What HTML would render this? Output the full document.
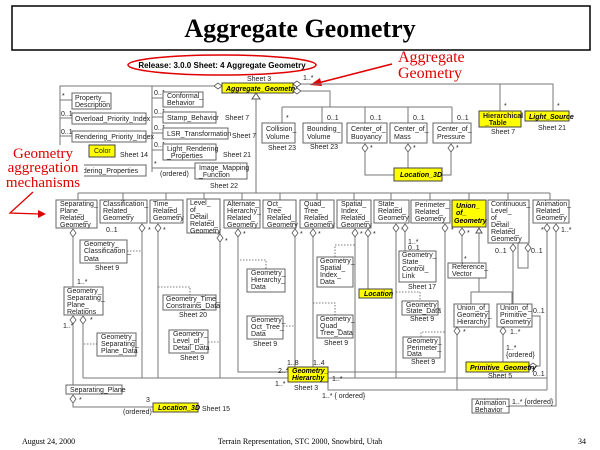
<!DOCTYPE html>
<html><head><meta charset="utf-8"><style>
html,body{margin:0;padding:0;background:#fff;}
svg{display:block;}
.b{fill:#fff;stroke:#666;stroke-width:1;}
.y{fill:#ffff00;stroke:#444;stroke-width:1;}
.t{font-family:"Liberation Sans",sans-serif;font-size:7px;fill:#222;}
.ti{font-family:"Liberation Sans",sans-serif;font-size:7px;fill:#000;font-weight:bold;font-style:italic;}
.l{stroke:#777;stroke-width:1;fill:none;}
.d{stroke:#555;stroke-width:0.8;stroke-dasharray:1.5,1.5;fill:none;}
.r{font-family:"Liberation Serif",serif;font-size:16px;fill:#e00000;}
.r2{font-family:"Liberation Serif",serif;font-size:15px;fill:#e00000;}
.dm{fill:#fff;stroke:#555;stroke-width:0.8;}
</style></head><body>
<svg width="600" height="450" viewBox="0 0 600 450" xmlns="http://www.w3.org/2000/svg">
<rect x="12" y="6" width="578" height="44" fill="#fff" stroke="#000" stroke-width="1.5"/>
<text x="300" y="37" text-anchor="middle" font-family="Liberation Serif,serif" font-weight="bold" font-size="26">Aggregate Geometry</text>
<ellipse cx="222" cy="65" rx="94" ry="10" fill="none" stroke="#e00000" stroke-width="1.5"/>
<text x="222" y="68" text-anchor="middle" font-family="Liberation Sans,sans-serif" font-weight="bold" font-size="8">Release: 3.0.0  Sheet: 4  Aggregate Geometry</text>
<text class="r" x="398" y="62">Aggregate</text>
<text class="r" x="398" y="78">Geometry</text>
<line x1="392" y1="64" x2="318" y2="83" stroke="#e00000" stroke-width="1.5"/>
<polygon points="310,85 320,78 322,86" fill="#e00000"/>

<text class="t" x="247" y="81">Sheet 3</text>
<rect class="y" x="222" y="83" width="71" height="10"/>
<text class="ti" x="226" y="91">Aggregate_Geometry</text>
<polygon class="dm" points="293,84 297,81 301,84 297,87"/>
<polygon class="dm" points="293,91 297,88 301,91 297,94"/>
<polygon class="dm" points="214,86 218,83 222,86 218,89"/>
<text class="t" x="303" y="80">1..*</text>
<polyline class="l" points="214,86 60,86 60,168"/>
<line class="l" x1="152" y1="86" x2="152" y2="172"/>
<line class="l" x1="60" y1="100" x2="72" y2="100"/><text class="t" x="62" y="98">*</text>
<line class="l" x1="60" y1="118" x2="72" y2="118"/><text class="t" x="61" y="116">0..1</text>
<line class="l" x1="60" y1="136" x2="72" y2="136"/><text class="t" x="61" y="134">0..1</text>
<rect class="b" x="72" y="93" width="39" height="16"/><text class="t" x="75" y="100">Property_</text><text class="t" x="75" y="107">Description</text>
<rect class="b" x="72" y="113" width="74" height="11"/><text class="t" x="75" y="121">Overload_Priority_Index</text>
<rect class="b" x="72" y="131" width="74" height="11"/><text class="t" x="75" y="139">Rendering_Priority_Index</text>
<rect class="y" x="89" y="145" width="26" height="12"/><text class="t" x="94" y="153">Color</text>
<text class="t" x="120" y="157">Sheet 14</text>
<rect class="b" x="60" y="165" width="86" height="11"/><text class="t" x="70" y="173">Rendering_Properties</text>
<line class="l" x1="152" y1="98" x2="163" y2="98"/><text class="t" x="154" y="95">0..1</text>
<line class="l" x1="152" y1="117" x2="163" y2="117"/><text class="t" x="154" y="114">0..1</text>
<line class="l" x1="152" y1="133" x2="163" y2="133"/><text class="t" x="154" y="130">0..1</text>
<line class="l" x1="152" y1="150" x2="163" y2="150"/><text class="t" x="154" y="147">0..1</text>
<line class="l" x1="152" y1="168" x2="195" y2="168"/><text class="t" x="154" y="166">*</text>
<text class="t" x="160" y="176">(ordered)</text>
<rect class="b" x="163" y="92" width="40" height="15"/><text class="t" x="167" y="98">Conformal_</text><text class="t" x="167" y="105">Behavior</text>
<rect class="b" x="163" y="112" width="53" height="11"/><text class="t" x="167" y="120">Stamp_Behavior</text><text class="t" x="225" y="120">Sheet 7</text>
<rect class="b" x="163" y="128" width="65" height="11"/><text class="t" x="167" y="136">LSR_Transformation</text><text class="t" x="232" y="138">Sheet 7</text>
<rect class="b" x="163" y="144" width="53" height="16"/><text class="t" x="167" y="151">Light_Rendering</text><text class="t" x="167" y="158">_Properties</text><text class="t" x="223" y="157">Sheet 21</text>
<rect class="b" x="195" y="163" width="52" height="16"/><text class="t" x="199" y="170">Image_Mapping</text><text class="t" x="199" y="177">_Function</text><text class="t" x="210" y="188">Sheet 22</text>
<rect x="4" y="145" width="80" height="46" fill="#fff"/>
<text class="r2" x="43" y="158" text-anchor="middle">Geometry</text>
<text class="r2" x="43" y="172" text-anchor="middle">aggregation</text>
<text class="r2" x="43" y="187" text-anchor="middle">mechanisms</text>
<polyline points="33,192 10,213 40,214" fill="none" stroke="#e00000" stroke-width="1.3"/>
<polygon points="46,214 38,210 38,218" fill="#e00000"/>

<polyline class="l" points="301,91 330,91 330,107"/>
<line class="l" x1="282" y1="107" x2="452" y2="107"/>
<line class="l" x1="282" y1="107" x2="282" y2="123"/><text class="t" x="286" y="120">*</text>
<line class="l" x1="322" y1="107" x2="322" y2="123"/><text class="t" x="327" y="120">0..1</text>
<line class="l" x1="365" y1="107" x2="365" y2="123"/><text class="t" x="370" y="120">0..1</text>
<line class="l" x1="408" y1="107" x2="408" y2="123"/><text class="t" x="413" y="120">0..1</text>
<line class="l" x1="452" y1="107" x2="452" y2="123"/><text class="t" x="457" y="120">0..1</text>
<rect class="b" x="262" y="123" width="33" height="20"/><text class="t" x="266" y="131">Collision_</text><text class="t" x="266" y="139">Volume</text><text class="t" x="268" y="150">Sheet 23</text>
<rect class="b" x="303" y="123" width="39" height="20"/><text class="t" x="307" y="131">Bounding_</text><text class="t" x="307" y="139">Volume</text><text class="t" x="310" y="149">Sheet 23</text>
<rect class="b" x="347" y="123" width="40" height="20"/><text class="t" x="351" y="131">Center_of_</text><text class="t" x="351" y="139">Buoyancy</text>
<rect class="b" x="390" y="123" width="37" height="20"/><text class="t" x="394" y="131">Center_of_</text><text class="t" x="394" y="139">Mass</text>
<rect class="b" x="433" y="123" width="38" height="20"/><text class="t" x="437" y="131">Center_of_</text><text class="t" x="437" y="139">Pressure</text>
<polygon class="dm" points="365,144 368,148 365,152 362,148"/><text class="t" x="370" y="150">*</text>
<polygon class="dm" points="408,144 411,148 408,152 405,148"/><text class="t" x="413" y="150">*</text>
<polygon class="dm" points="451,144 454,148 451,152 448,148"/><text class="t" x="456" y="150">*</text>
<polyline class="l" points="365,152 365,175 394,175"/>
<line class="l" x1="408" y1="152" x2="408" y2="168"/>
<polyline class="l" points="451,152 451,175 442,175"/>
<rect class="y" x="394" y="168" width="48" height="13"/><text class="ti" x="400" y="177">Location_3D</text>
<polyline class="l" points="301,84 553,84 553,111"/>
<line class="l" x1="500" y1="84" x2="500" y2="111"/>
<text class="t" x="504" y="108">*</text><text class="t" x="557" y="108">*</text>
<rect class="y" x="479" y="111" width="42" height="16"/><text class="t" x="483" y="118" font-weight="bold">Hierarchical</text><text class="t" x="485" y="125" font-weight="bold">_Table</text><text class="t" x="491" y="134">Sheet 7</text>
<rect class="y" x="525" y="111" width="44" height="10"/><text class="ti" x="529" y="119">Light_Source</text><text class="t" x="538" y="130">Sheet 21</text>

<polygon points="256,93 252,99 260,99" fill="#fff" stroke="#555"/>
<line class="l" x1="256" y1="99" x2="256" y2="193"/>
<line class="l" x1="78" y1="193" x2="550" y2="193"/>
<g class="l">
<line x1="78" y1="193" x2="78" y2="200"/><line x1="123" y1="193" x2="123" y2="200"/><line x1="166" y1="193" x2="166" y2="200"/><line x1="204" y1="193" x2="204" y2="199"/><line x1="242" y1="193" x2="242" y2="200"/><line x1="280" y1="193" x2="280" y2="200"/><line x1="317" y1="193" x2="317" y2="200"/><line x1="354" y1="193" x2="354" y2="200"/><line x1="391" y1="193" x2="391" y2="200"/><line x1="430" y1="193" x2="430" y2="200"/><line x1="469" y1="193" x2="469" y2="200"/><line x1="508" y1="193" x2="508" y2="200"/><line x1="550" y1="193" x2="550" y2="200"/>
</g>
<rect class="b" x="56" y="200" width="41" height="28"/><text class="t" x="60" y="206">Separating_</text><text class="t" x="60" y="213">Plane_</text><text class="t" x="60" y="220">Related_</text><text class="t" x="60" y="227">Geometry</text>
<rect class="b" x="100" y="200" width="47" height="23"/><text class="t" x="103" y="206">Classification_</text><text class="t" x="103" y="213">Related_</text><text class="t" x="103" y="220">Geometry</text>
<rect class="b" x="150" y="200" width="33" height="23"/><text class="t" x="153" y="206">Time_</text><text class="t" x="153" y="213">Related_</text><text class="t" x="153" y="220">Geometry</text>
<rect class="b" x="187" y="199" width="33" height="34"/><text class="t" x="190" y="205">Level_</text><text class="t" x="190" y="212">of_</text><text class="t" x="190" y="219">Detail_</text><text class="t" x="190" y="226">Related_</text><text class="t" x="190" y="233">Geometry</text>
<rect class="b" x="224" y="200" width="36" height="28"/><text class="t" x="227" y="206">Alternate_</text><text class="t" x="227" y="213">Hierarchy_</text><text class="t" x="227" y="220">Related_</text><text class="t" x="227" y="227">Geometry</text>
<rect class="b" x="263" y="200" width="33" height="28"/><text class="t" x="267" y="206">Oct_</text><text class="t" x="267" y="213">Tree_</text><text class="t" x="267" y="220">Related_</text><text class="t" x="267" y="227">Geometry</text>
<rect class="b" x="300" y="200" width="34" height="28"/><text class="t" x="304" y="206">Quad_</text><text class="t" x="304" y="213">Tree_</text><text class="t" x="304" y="220">Related_</text><text class="t" x="304" y="227">Geometry</text>
<rect class="b" x="337" y="200" width="34" height="28"/><text class="t" x="341" y="206">Spatial_</text><text class="t" x="341" y="213">Index_</text><text class="t" x="341" y="220">Related_</text><text class="t" x="341" y="227">Geometry</text>
<rect class="b" x="374" y="200" width="35" height="23"/><text class="t" x="378" y="206">State_</text><text class="t" x="378" y="213">Related_</text><text class="t" x="378" y="220">Geometry</text>
<rect class="b" x="411" y="200" width="39" height="23"/><text class="t" x="415" y="207">Perimeter_</text><text class="t" x="415" y="214">Related_</text><text class="t" x="415" y="221">Geometry</text>
<rect class="y" x="452" y="200" width="34" height="27"/><text class="ti" x="456" y="208">Union_</text><text class="ti" x="456" y="215">of_</text><text class="ti" x="454" y="223">Geometry</text>
<rect class="b" x="488" y="200" width="41" height="43"/><text class="t" x="491" y="206">Continuous_</text><text class="t" x="491" y="213">Level_</text><text class="t" x="491" y="220">of_</text><text class="t" x="491" y="227">Detail_</text><text class="t" x="491" y="234">Related_</text><text class="t" x="491" y="241">Geometry</text>
<rect class="b" x="533" y="200" width="36" height="23"/><text class="t" x="536" y="206">Animation_</text><text class="t" x="536" y="213">Related_</text><text class="t" x="536" y="220">Geometry</text>

<g>
<polygon class="dm" points="73,229 76,233 73,237 70,233"/>
<polygon class="dm" points="142,224 145,228 142,232 139,228"/><text class="t" x="148" y="232">*</text>
<polygon class="dm" points="158,224 161,228 158,232 155,228"/><text class="t" x="163" y="232">*</text>
<polygon class="dm" points="220,234 223,238 220,242 217,238"/><text class="t" x="225" y="243">*</text>
<polygon class="dm" points="238,229 241,233 238,237 235,233"/><text class="t" x="243" y="236">*</text>
<polygon class="dm" points="295,229 298,233 295,237 292,233"/><text class="t" x="300" y="236">*</text>
<polygon class="dm" points="313,229 316,233 313,237 310,233"/><text class="t" x="318" y="236">*</text>
<polygon class="dm" points="355,229 358,233 355,237 352,233"/><text class="t" x="360" y="236">*</text>
<polygon class="dm" points="368,229 371,233 368,237 365,233"/><text class="t" x="373" y="236">*</text>
<polygon class="dm" points="396,224 399,228 396,232 393,228"/><text class="t" x="401" y="232">*</text>
<polygon class="dm" points="405,224 408,228 405,232 402,228"/>
<polygon class="dm" points="445,224 448,228 445,232 442,228"/><text class="t" x="451" y="232">*</text>
<polygon class="dm" points="462,228 465,232 462,236 459,232"/><text class="t" x="467" y="235">*</text>
<polygon points="479,228 476,233 482,233" fill="#fff" stroke="#555"/>
<polygon class="dm" points="513,244 516,248 513,252 510,248"/>
<polygon class="dm" points="528,244 531,248 528,252 525,248"/>
<polygon class="dm" points="547,224 550,228 547,232 544,228"/><text class="t" x="541" y="232">*</text>
<polygon class="dm" points="556,224 559,228 556,232 553,228"/><text class="t" x="561" y="232">1..*</text>
</g>
<g class="l">
<line x1="73" y1="237" x2="73" y2="287"/>
<line x1="142" y1="232" x2="142" y2="378"/>
<line x1="158" y1="232" x2="158" y2="378"/>
<line x1="220" y1="242" x2="220" y2="378"/>
<polyline points="238,237 238,372 288,372"/>
<line x1="295" y1="237" x2="295" y2="367"/>
<polyline points="313,237 313,367"/>
<line x1="355" y1="237" x2="355" y2="378"/>
<line x1="368" y1="237" x2="368" y2="289"/>
<line x1="396" y1="232" x2="396" y2="378"/>
<line x1="405" y1="232" x2="405" y2="251"/>
<polyline points="445,232 445,372 328,372"/>
<line x1="462" y1="236" x2="462" y2="263"/>
<polyline points="479,233 479,292 491,292"/>
<polyline points="471,304 471,292 512,292 512,304"/>
<line x1="513" y1="252" x2="513" y2="304"/>
<polyline points="528,252 528,268 518,268 518,243"/>
<polyline points="547,232 547,390"/>
<polyline points="556,232 556,406 509,406"/>
<line x1="83" y1="378" x2="547" y2="378"/>
<polyline points="328,378 328,390 547,390"/>
<line x1="457" y1="335" x2="457" y2="390"/>
</g>
<text class="t" x="106" y="232">0..1</text>
<text class="t" x="495" y="253">0..1</text><text class="t" x="531" y="253">0..1</text>
<rect class="b" x="80" y="240" width="47" height="23"/><text class="t" x="84" y="246">Geometry_</text><text class="t" x="84" y="253">Classification _</text><text class="t" x="84" y="261">Data</text><text class="t" x="95" y="270">Sheet 9</text>
<line class="d" x1="127" y1="251" x2="142" y2="251"/>
<text class="t" x="77" y="284">1..*</text>
<rect class="b" x="64" y="287" width="39" height="28"/><text class="t" x="67" y="293">Geometry_</text><text class="t" x="67" y="300">Separating_</text><text class="t" x="67" y="307">Plane_</text><text class="t" x="67" y="314">Relations</text>
<polygon class="dm" points="73,316 76,320 73,324 70,320"/><polygon class="dm" points="83,316 86,320 83,324 80,320"/>
<text class="t" x="63" y="328">1..*</text><text class="t" x="90" y="322">*</text>
<line class="l" x1="73" y1="324" x2="73" y2="385"/><line class="l" x1="83" y1="324" x2="83" y2="378"/>
<rect class="b" x="97" y="333" width="39" height="23"/><text class="t" x="101" y="339">Geometry_</text><text class="t" x="101" y="346">Separating_</text><text class="t" x="101" y="353">Plane_Data</text>
<line class="d" x1="84" y1="344" x2="97" y2="344"/>
<rect class="b" x="66" y="385" width="56" height="9"/><text class="t" x="70" y="392">Separating_Plane</text>
<polygon class="dm" points="73,395 76,399 73,403 70,399"/><text class="t" x="79" y="402">*</text>
<polyline class="l" points="73,403 73,407 153,407"/>
<text class="t" x="146" y="402">3</text><text class="t" x="123" y="414">(ordered)</text>
<rect class="y" x="153" y="403" width="45" height="9"/><text class="ti" x="158" y="410">Location_3D</text><text class="t" x="202" y="411">Sheet 15</text>
<rect class="b" x="163" y="295" width="53" height="15"/><text class="t" x="166" y="301">Geometry_Time_</text><text class="t" x="166" y="308">Constraints_Data</text><text class="t" x="179" y="317">Sheet 20</text>
<polyline class="d" points="158,287 190,287 190,295"/>
<rect class="b" x="169" y="330" width="39" height="23"/><text class="t" x="173" y="336">Geometry_</text><text class="t" x="173" y="343">Level_of_</text><text class="t" x="173" y="350">Detail_Data</text><text class="t" x="180" y="360">Sheet 9</text>
<line class="d" x1="208" y1="342" x2="220" y2="342"/>
<rect class="b" x="247" y="269" width="38" height="23"/><text class="t" x="251" y="275">Geometry_</text><text class="t" x="251" y="282">Hierarchy_</text><text class="t" x="251" y="289">Data</text>
<polyline class="d" points="240,260 266,260 266,269"/>
<rect class="b" x="247" y="316" width="36" height="23"/><text class="t" x="251" y="322">Geometry_</text><text class="t" x="251" y="329">Oct_Tree_</text><text class="t" x="251" y="336">Data</text><text class="t" x="253" y="346">Sheet 9</text>
<line class="d" x1="283" y1="326" x2="295" y2="326"/>
<rect class="b" x="317" y="257" width="36" height="30"/><text class="t" x="320" y="263">Geometry_</text><text class="t" x="320" y="270">Spatial_</text><text class="t" x="320" y="277">Index_</text><text class="t" x="320" y="284">Data</text>
<polyline class="d" points="335,257 335,245 355,245"/>
<rect class="b" x="317" y="315" width="36" height="23"/><text class="t" x="320" y="321">Geometry_</text><text class="t" x="320" y="328">Quad_</text><text class="t" x="320" y="335">Tree_Data</text><text class="t" x="324" y="345">Sheet 9</text>
<polyline class="d" points="313,303 335,303 335,315"/>
<rect class="y" x="359" y="289" width="33" height="9"/><text class="ti" x="364" y="296">Location</text>
<text class="t" x="408" y="244">1..*</text><text class="t" x="408" y="250">0..1</text>
<rect class="b" x="399" y="251" width="37" height="31"/><text class="t" x="402" y="257">Geometry_</text><text class="t" x="402" y="264">State_</text><text class="t" x="402" y="271">Control_</text><text class="t" x="402" y="278">Link</text><text class="t" x="408" y="289">Sheet 17</text>
<rect class="b" x="402" y="301" width="36" height="14"/><text class="t" x="406" y="307">Geometry_</text><text class="t" x="406" y="313">State_Data</text><text class="t" x="410" y="321">Sheet 9</text>
<polyline class="d" points="396,292 420,292 420,301"/>
<rect class="b" x="403" y="337" width="37" height="21"/><text class="t" x="407" y="343">Geometry_</text><text class="t" x="407" y="350">Perimeter_</text><text class="t" x="407" y="356">Data</text><text class="t" x="411" y="364">Sheet 9</text>
<polyline class="d" points="421,337 421,332 445,332"/>
<text class="t" x="464" y="261">*</text>
<rect class="b" x="448" y="263" width="38" height="15"/><text class="t" x="452" y="269">Reference_</text><text class="t" x="452" y="276">Vector</text>
<rect class="b" x="454" y="304" width="35" height="23"/><text class="t" x="457" y="310">Union_of_</text><text class="t" x="457" y="317">Geometry_</text><text class="t" x="457" y="324">Hierarchy</text>
<polygon class="dm" points="457,327 460,331 457,335 454,331"/><text class="t" x="463" y="334">*</text>
<rect class="b" x="497" y="304" width="35" height="23"/><text class="t" x="500" y="310">Union_of_</text><text class="t" x="500" y="317">Primitive_</text><text class="t" x="500" y="324">Geometry</text>
<polygon class="dm" points="503,327 506,331 503,335 500,331"/><text class="t" x="510" y="334">1..*</text>
<text class="t" x="533" y="313">0..1</text>
<polyline class="l" points="532,316 540,316 540,366 531,366"/>
<polygon class="dm" points="529,366 533,363 537,366 533,369"/><text class="t" x="533" y="376">0..1</text>
<line class="l" x1="503" y1="335" x2="503" y2="362"/>
<text class="t" x="506" y="350">1..*</text><text class="t" x="506" y="357">{ordered}</text>
<rect class="y" x="466" y="362" width="63" height="10"/><text class="ti" x="470" y="370">Primitive_Geometry</text><text class="t" x="488" y="378">Sheet 5</text>
<rect class="b" x="472" y="399" width="37" height="14"/><text class="t" x="475" y="405">Animation_</text><text class="t" x="475" y="412">Behavior</text>
<text class="t" x="512" y="404">1..* {ordered}</text>
<text class="t" x="287" y="365">1..8</text><text class="t" x="313" y="365">1..4</text>
<text class="t" x="278" y="373">2..*</text>
<rect class="y" x="288" y="367" width="40" height="15"/><text class="ti" x="292" y="373">Geometry_</text><text class="ti" x="292" y="380">Hierarchy</text>
<text class="t" x="332" y="381">1..*</text><text class="t" x="275" y="386">1..*</text><text class="t" x="294" y="390">Sheet 3</text>
<text class="t" x="322" y="398">1..*  { ordered}</text>
<text x="22" y="444" font-family="Liberation Serif,serif" font-size="8">August 24, 2000</text>
<text x="300" y="444" text-anchor="middle" font-family="Liberation Serif,serif" font-size="8">Terrain Representation, STC 2000, Snowbird, Utah</text>
<text x="578" y="444" font-family="Liberation Serif,serif" font-size="8">34</text>
</svg>
</body></html>
